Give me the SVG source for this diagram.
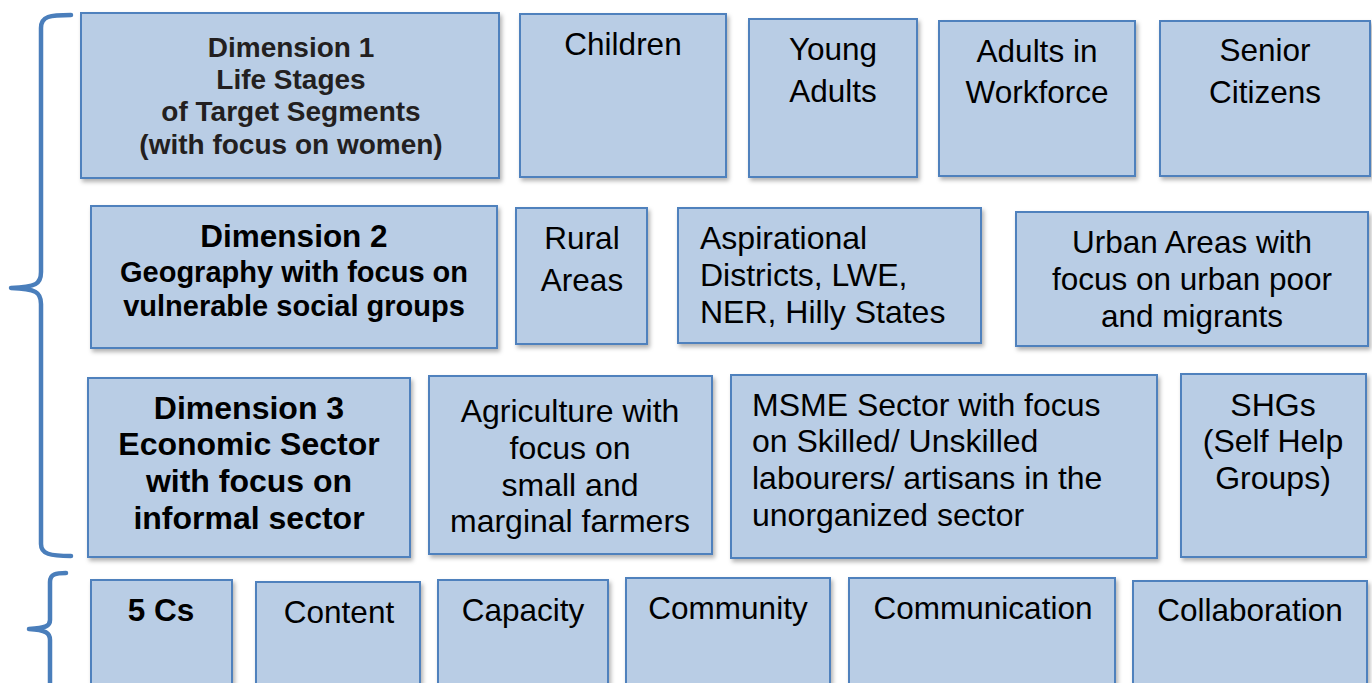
<svg xmlns="http://www.w3.org/2000/svg" width="1372" height="683" viewBox="0 0 1372 683">
<defs>
<filter id="sh" x="-5%" y="-5%" width="112%" height="115%">
<feDropShadow dx="2" dy="3" stdDeviation="2" flood-color="#000" flood-opacity="0.3"/>
</filter>
<style>
.box{fill:#b9cde5;stroke:#4f81bd;stroke-width:2;filter:url(#sh)}
.br{fill:none;stroke:#4a7ebb;stroke-width:4.5;stroke-linecap:round;stroke-linejoin:round}
text{font-family:"Liberation Sans",Arial,sans-serif;fill:#000;font-size:31.5px}
.c{text-anchor:middle}
.b{font-weight:bold}
.r3{font-size:32px}
.s29{font-size:29px}
.d1{fill:#231f20;font-size:28px}
</style>
</defs>
<rect width="1372" height="683" fill="#fff"/>
<g id="connectors">
<path class="br" d="M71,15 C50,15 41,16 41,28 L41,272 C41,284 36,287 11,288 C36,289 41,292 41,304 L41,544 C41,554 50,556 71,556"/>
<path class="br" d="M66,573 C56,573 50,574 50,582 L50,620 C50,626 46,628 29,629 C46,630 50,633 50,640 L50,690"/>
</g>
<g id="dim1"><rect class="box" x="81" y="13" width="418" height="165"/>
<text class="c b d1" x="291" y="57">Dimension 1</text>
<text class="c b d1" x="291" y="89">Life Stages</text>
<text class="c b d1" x="291" y="121">of Target Segments</text>
<text class="c b d1" x="291" y="154">(with focus on women)</text></g>
<g id="children"><rect class="box" x="520" y="14" width="206" height="163"/>
<text class="c" x="623" y="55">Children</text></g>
<g id="young"><rect class="box" x="749" y="19" width="168" height="158"/>
<text class="c" x="833" y="60">Young</text><text class="c" x="833" y="102">Adults</text></g>
<g id="adults"><rect class="box" x="939" y="21" width="196" height="155"/>
<text class="c" x="1037" y="62">Adults in</text><text class="c" x="1037" y="103">Workforce</text></g>
<g id="senior"><rect class="box" x="1160" y="21" width="210" height="155"/>
<text class="c" x="1265" y="61">Senior</text><text class="c" x="1265" y="103">Citizens</text></g>

<g id="dim2"><rect class="box" x="91" y="206" width="406" height="142"/>
<text class="c b" x="294" y="247">Dimension 2</text>
<text class="c b s29" x="294" y="282">Geography with focus on</text>
<text class="c b s29" x="294" y="316">vulnerable social groups</text></g>
<g id="rural"><rect class="box" x="516" y="208" width="131" height="136"/>
<text class="c" x="582" y="249">Rural</text><text class="c" x="582" y="291">Areas</text></g>
<g id="aspirational"><rect class="box" x="678" y="208" width="303" height="135"/>
<text class="r3" x="700" y="249">Aspirational</text><text class="r3" x="700" y="286">Districts, LWE,</text><text class="r3" x="700" y="323">NER, Hilly States</text></g>
<g id="urban"><rect class="box" x="1016" y="212" width="352" height="134"/>
<text class="c" x="1192" y="253">Urban Areas with</text><text class="c" x="1192" y="290">focus on urban poor</text><text class="c" x="1192" y="327">and migrants</text></g>

<g id="dim3"><rect class="box" x="88" y="378" width="322" height="179"/>
<text class="c b r3" x="249" y="419">Dimension 3</text>
<text class="c b r3" x="249" y="455">Economic Sector</text>
<text class="c b r3" x="249" y="492">with focus on</text>
<text class="c b r3" x="249" y="529">informal sector</text></g>
<g id="agriculture"><rect class="box" x="429" y="376" width="283" height="178"/>
<text class="c r3" x="570" y="422">Agriculture with</text><text class="c r3" x="570" y="459">focus on</text><text class="c r3" x="570" y="496">small and</text><text class="c r3" x="570" y="532">marginal farmers</text></g>
<g id="msme"><rect class="box" x="731" y="375" width="426" height="183"/>
<text class="r3" x="752" y="416">MSME Sector with focus</text><text class="r3" x="752" y="452">on Skilled/ Unskilled</text><text class="r3" x="752" y="489">labourers/ artisans in the</text><text class="r3" x="752" y="526">unorganized sector</text></g>
<g id="shgs"><rect class="box" x="1181" y="374" width="185" height="183"/>
<text class="c r3" x="1273" y="416">SHGs</text><text class="c r3" x="1273" y="452">(Self Help</text><text class="c r3" x="1273" y="489">Groups)</text></g>

<g id="fivecs"><rect class="box" x="91" y="580" width="141" height="110"/>
<text class="c b" x="161" y="621">5 Cs</text></g>
<g id="content"><rect class="box" x="256" y="582" width="164" height="108"/>
<text class="c" x="339" y="623">Content</text></g>
<g id="capacity"><rect class="box" x="438" y="580" width="170" height="110"/>
<text class="c" x="523" y="621">Capacity</text></g>
<g id="community"><rect class="box" x="626" y="578" width="204" height="112"/>
<text class="c" x="728" y="619">Community</text></g>
<g id="communication"><rect class="box" x="849" y="578" width="266" height="112"/>
<text class="c" x="983" y="619">Communication</text></g>
<g id="collaboration"><rect class="box" x="1133" y="581" width="234" height="109"/>
<text class="c" x="1250" y="621">Collaboration</text></g>
</svg>
